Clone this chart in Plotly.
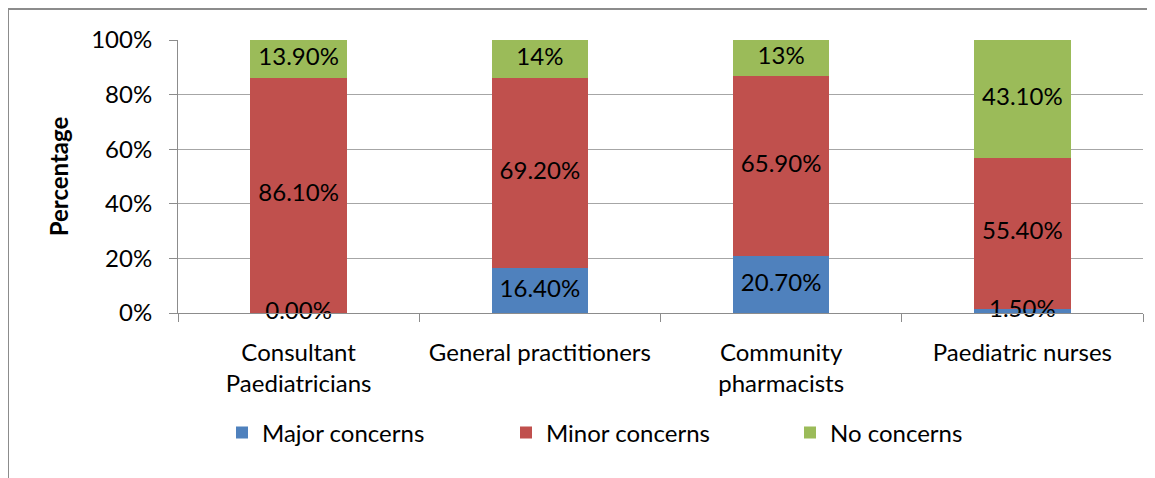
import plotly.graph_objects as go
import numpy as np

categories = ["Consultant<br>Paediatricians", "General practitioners", "Community<br>pharmacists", "Paediatric nurses"]
series_names = ["Major concerns", "Minor concerns", "No concerns"]
major = [0.0, 16.4, 20.7, 1.5]
minor = [86.1, 69.2, 65.9, 55.4]
none_ = [13.9, 14.0, 13.0, 43.1]
major_labels = ["0.00%", "16.40%", "20.70%", "1.50%"]
minor_labels = ["86.10%", "69.20%", "65.90%", "55.40%"]
none_labels = ["13.90%", "14%", "13%", "43.10%"]
y_ticks = [0, 20, 40, 60, 80, 100]
y_tick_labels = ["0%", "20%", "40%", "60%", "80%", "100%"]

colors = ["#4F81BD", "#C0504D", "#9BBB59"]
FONT = "Lato"
FS = 24

OFF = 8  # page body margin offset
W, H = 1155 - OFF, 478 - OFF
L, R, T, B = 178 - OFF, 1143 - OFF, 40 - OFF, 313 - OFF  # plot area pixels (figure coords)

vals = np.array([major, minor, none_])
totals = vals.sum(axis=0)
norm = vals / totals * 100
cum = np.cumsum(norm, axis=0)
mids = cum - norm / 2

fig = go.Figure()
for i, (name, v) in enumerate(zip(series_names, [major, minor, none_])):
    fig.add_trace(go.Bar(
        x=categories, y=v, name=name,
        marker=dict(color=colors[i], line=dict(width=0)),
        hoverinfo="skip",
    ))

for i, labs in enumerate([major_labels, minor_labels, none_labels]):
    fig.add_trace(go.Scatter(
        x=categories, y=mids[i], mode="text", text=labs,
        textfont=dict(family=FONT, size=FS, color="#000000"),
        textposition="middle center", showlegend=False, cliponaxis=False,
        hoverinfo="skip",
    ))

pw = R - L
ph = B - T
def px(xpage):
    return (xpage - OFF - L) / pw
def py(ypage):
    return (B - (ypage - OFF)) / ph

# chart border (left and top visible)
fig.add_shape(type="line", xref="paper", yref="paper", x0=px(8), x1=px(8), y0=py(9), y1=py(490),
              line=dict(color="#8C8C8C", width=2))
fig.add_shape(type="line", xref="paper", yref="paper", x0=px(8), x1=px(1170), y0=py(9), y1=py(9),
              line=dict(color="#8C8C8C", width=2))

fig.update_layout(
    width=W, height=H,
    margin=dict(l=L, r=W - R, t=T, b=H - B, pad=0),
    barmode="stack", barnorm="percent", bargap=0.6,
    plot_bgcolor="white", paper_bgcolor="white",
    font=dict(family=FONT, size=FS, color="#000000"),
    legend=dict(orientation="h", x=px(222), xanchor="left", y=py(433), yanchor="middle",
                font=dict(family=FONT, size=FS), entrywidth=239, itemwidth=30,
                traceorder="normal"),
    showlegend=True,
)
fig.update_xaxes(
    type="category", showline=True, linecolor="#8C8C8C", linewidth=1,
    ticks="outside", tickson="boundaries", ticklen=8, tickcolor="#8C8C8C",
    showgrid=False, automargin=False, ticklabelstandoff=18,
)
fig.update_yaxes(
    range=[0, 100], tickvals=y_ticks, ticktext=y_tick_labels,
    showline=True, linecolor="#8C8C8C", linewidth=1,
    ticks="outside", ticklen=8, tickcolor="#8C8C8C",
    showgrid=True, gridcolor="#A6A6A6", gridwidth=1,
    automargin=False, ticklabelstandoff=12,
    title=dict(text="<b>Percentage</b>", font=dict(family=FONT, size=FS)),
)

fig.write_html("out.html")
